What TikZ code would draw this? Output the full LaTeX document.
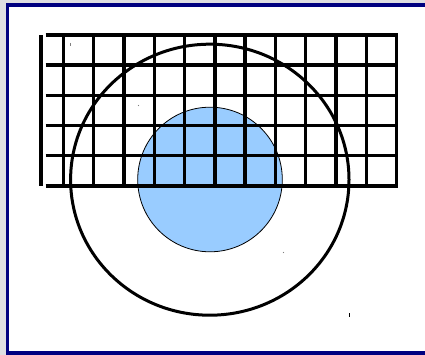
\documentclass[tikz,border=0pt]{standalone}
\definecolor{framenavy}{RGB}{0,0,128}
\definecolor{discblue}{RGB}{153,204,255}
\definecolor{pagegray}{RGB}{222,222,226}
\usepackage{tikz}
\usetikzlibrary{calc}

\begin{document}
\begin{tikzpicture}[x=1pt, y=-1pt,
        gridline/.style={line width=3.4pt, black},
        ringline/.style={line width=3pt, black},
        framerule/.style={line width=3.5pt, framenavy}]
    % page and frame
    \useasboundingbox (0,0) rectangle (425,355);
    \fill[pagegray] (0,0) rectangle (425,355);
    \fill[white] (7.5,5) rectangle (425,353);
    \draw[framerule] (7.5,355) -- (7.5,5) -- (425,5);
    \draw[framerule] (7.5,353) -- (425,353);
    % inner disc
    \fill[discblue, draw=black, line width=0.8pt] (210,179.5) circle (72.3);
    % grid
    \foreach \r in {0,...,5}
        \draw[gridline] (45.5,35+30.2*\r) -- (398,35+30.2*\r);
    \foreach \c in {0,...,11}
        \draw[gridline] (63.3+30.3*\c,33.4) -- (63.3+30.3*\c,187.6);
    \draw[gridline] (41,35.5) -- (41,186.5);
    % outer ring
    \draw[ringline] (209.8,179.7) ellipse [x radius=139.2, y radius=135.5];
    % stray marks
    \draw[gray, line width=1pt] (70.7,43) -- (70.7,46.5);
    \draw[black, line width=1pt] (349.3,313) -- (349.3,317);
    \fill[gray] (138.5,105.5) circle (0.6);
    \fill[gray] (283.5,252.5) circle (0.6);
\end{tikzpicture}
\end{document}
